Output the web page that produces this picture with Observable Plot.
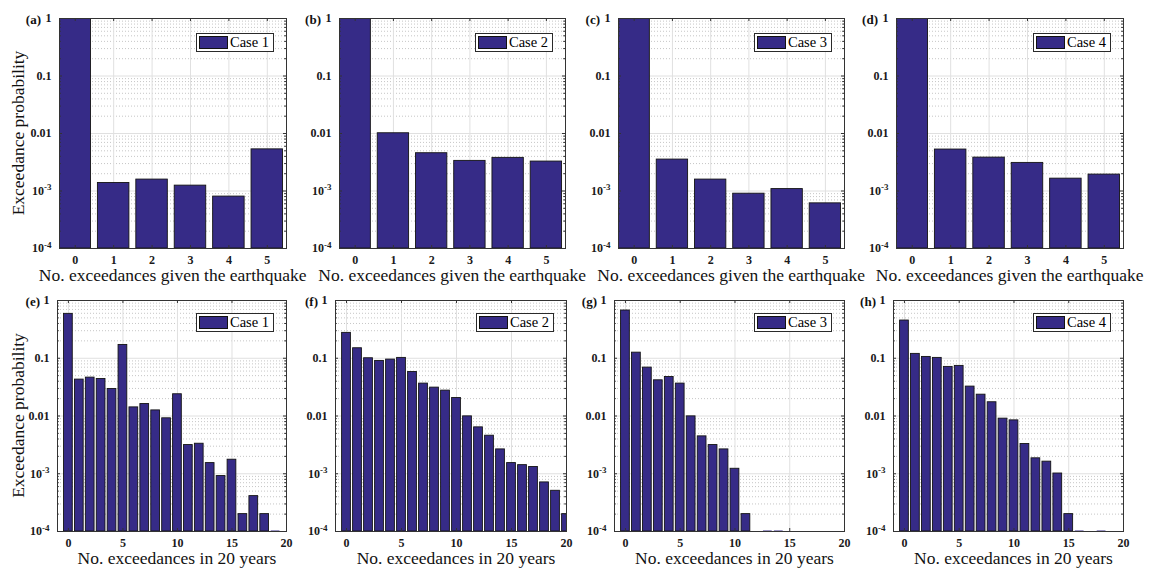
<!DOCTYPE html>
<html>
<head>
<meta charset="utf-8">
<script src="https://cdn.jsdelivr.net/npm/d3@7"></script>
<script src="https://cdn.jsdelivr.net/npm/@observablehq/plot@0.6"></script>
<style>
html,body{margin:0;padding:0;background:#fff;}
#root{position:relative;width:1153px;height:569px;overflow:hidden;font-family:"Liberation Serif","Times New Roman",serif;}
.panel{position:absolute;}
.panel svg{overflow:visible;}
.legend{position:absolute;box-sizing:border-box;border:1px solid #2a2a2a;background:#fff;height:19px;width:78px;display:flex;align-items:center;padding-left:2px;font-size:14.5px;color:#000;line-height:1;}
.swatch{width:29px;height:13px;box-sizing:border-box;border:1px solid #111;margin-right:2px;}
#overlay{position:absolute;left:0;top:0;pointer-events:none;}
</style>
</head>
<body>
<div id="root"></div>
<script>
// ---------------- data ----------------
const eqCounts = [0, 1, 2, 3, 4, 5];
const eqCase1 = [1, 0.00138, 0.00158, 0.00124, 0.00080, 0.0053];
const eqCase2 = [1, 0.0101, 0.00454, 0.00334, 0.00377, 0.00325];
const eqCase3 = [1, 0.00352, 0.00158, 0.000898, 0.00108, 0.00061];
const eqCase4 = [1, 0.00526, 0.00381, 0.00308, 0.00164, 0.00193];

const yrCounts = [0, 1, 2, 3, 4, 5, 6, 7, 8, 9, 10, 11, 12, 13, 14, 15, 16, 17, 18, 19, 20];
const yrCase1 = [0.587, 0.0427, 0.0462, 0.0438, 0.0294, 0.170, 0.0141, 0.0161, 0.0125, 0.00912, 0.0238, 0.00314, 0.00331, 0.00153, 0.000912, 0.00175, 0.0002, 0.00041, 0.0002, 0.0001, null];
const yrCase2 = [0.275, 0.149, 0.100, 0.0899, 0.0948, 0.1014, 0.0579, 0.0364, 0.0310, 0.0275, 0.0205, 0.00986, 0.00636, 0.00456, 0.00264, 0.00153, 0.00141, 0.00131, 0.000708, 0.000507, 0.0002];
const yrCase3 = [0.671, 0.125, 0.0689, 0.0415, 0.0474, 0.0364, 0.00986, 0.00444, 0.00314, 0.00264, 0.00122, 0.0002, null, 0.0001, 0.0001, null, null, null, null, null, null];
const yrCase4 = [0.450, 0.119, 0.1054, 0.1014, 0.0708, 0.0737, 0.0323, 0.0234, 0.0173, 0.0090, 0.0084, 0.00327, 0.00185, 0.00162, 0.00101, 0.0002, 0.0001, null, 0.0001, null, null];

const caseNames = ["Case 1", "Case 2", "Case 3", "Case 4"];
const topTags = ["(a)", "(b)", "(c)", "(d)"];
const bottomTags = ["(e)", "(f)", "(g)", "(h)"];
const yTickValues = [1e-4, 1e-3, 1e-2, 0.1, 1];
const yTickLabels = ["10^-4", "10^-3", "0.01", "0.1", "1"];
const eqTickValues = [0, 1, 2, 3, 4, 5];
const yrTickValues = [0, 5, 10, 15, 20];
const yLabelText = "Exceedance probability";
const eqXLabel = "No. exceedances given the earthquake";
const yrXLabel = "No. exceedances in 20 years";

// ---------------- style / layout ----------------
const BAR = "#362b87";
const FRAME = "#333333";
const topAxes = [
  {left: 59, right: 286, top: 18, bottom: 248},
  {left: 339, right: 565, top: 18, bottom: 248},
  {left: 618, right: 844, top: 18, bottom: 248},
  {left: 896, right: 1123, top: 18, bottom: 248}
];
const bottomAxes = [
  {left: 57, right: 286, top: 300, bottom: 531},
  {left: 335, right: 566, top: 300, bottom: 531},
  {left: 614, right: 844, top: 300, bottom: 531},
  {left: 893, right: 1123, top: 300, bottom: 531}
];

const yMinor = [];
for (let e = -4; e < 0; e++) for (let k = 2; k <= 9; k++) yMinor.push(k * Math.pow(10, e));

const root = document.getElementById("root");
const NS = "http://www.w3.org/2000/svg";

function fmtY(v) {
  const i = yTickValues.indexOf(v);
  return i >= 0 ? yTickLabels[i] : "";
}

function makePanel(o) {
  const mL = 46, mR = 10, mT = 8, mB = 26;
  const ax = o.ax;
  const w = ax.right - ax.left, h = ax.bottom - ax.top;
  const rows = o.counts.map((c, i) => ({c, v: o.values[i]})).filter(d => d.v != null);
  const bars = rows.filter(d => d.v > 1e-4);
  const flat = rows.filter(d => d.v <= 1e-4);
  const half = o.half;
  const tl = 3, tm = 1.8;
  const svg = Plot.plot({
    width: w + mL + mR,
    height: h + mT + mB,
    marginLeft: mL, marginRight: mR, marginTop: mT, marginBottom: mB,
    x: {type: "linear", domain: o.xDomain, ticks: o.xTicks, tickFormat: d => String(d), tickSize: 0, tickPadding: 7, label: null},
    y: {type: "log", domain: [1e-4, 1], ticks: yTickValues, tickFormat: fmtY, tickSize: 0, tickPadding: 8, label: null},
    style: {fontFamily: '"Liberation Serif","Times New Roman",serif', fontSize: "12px", fontWeight: "bold", color: "#1a1a1a", background: "transparent", overflow: "visible"},
    marks: [
      Plot.ruleY(yMinor, {stroke: "#b8b8b8", strokeDasharray: "1,2", strokeWidth: 0.8}),
      Plot.ruleY(yTickValues, {stroke: "#e0e0e0", strokeWidth: 1}),
      Plot.ruleX(o.xTicks, {stroke: "#e0e0e0", strokeWidth: 1}),
      Plot.rect(bars, {x1: d => d.c - half, x2: d => d.c + half, y1: 1e-4, y2: "v", fill: BAR, stroke: "#141414", strokeWidth: 0.9, clip: true}),
      Plot.ruleY(flat, {y: "v", x1: d => d.c - half, x2: d => d.c + half, stroke: BAR, strokeWidth: 2, clip: true}),
      // inward ticks
      Plot.ruleY(yTickValues, {stroke: FRAME, insetRight: w - tl}),
      Plot.ruleY(yTickValues, {stroke: FRAME, insetLeft: w - tl}),
      Plot.ruleY(yMinor, {stroke: FRAME, insetRight: w - tm}),
      Plot.ruleY(yMinor, {stroke: FRAME, insetLeft: w - tm}),
      Plot.ruleX(o.xTicks, {stroke: FRAME, insetTop: h - tl}),
      Plot.ruleX(o.xTicks, {stroke: FRAME, insetBottom: h - tl}),
      Plot.frame({stroke: FRAME, strokeWidth: 1})
    ]
  });
  // superscript exponents on the log axis labels
  d3.select(svg).selectAll('g[aria-label="y-axis tick label"] text').each(function () {
    const m = /^10\^(-?\d+)$/.exec(this.textContent);
    if (m) {
      this.textContent = "10";
      const ts = document.createElementNS(NS, "tspan");
      ts.setAttribute("dy", "-0.5em");
      ts.setAttribute("font-size", "9");
      ts.textContent = m[1];
      this.appendChild(ts);
    }
  });
  const div = document.createElement("div");
  div.className = "panel";
  div.style.left = (ax.left - mL) + "px";
  div.style.top = (ax.top - mT) + "px";
  div.appendChild(svg);
  root.appendChild(div);

  // legend
  const lg = document.createElement("div");
  lg.className = "legend";
  lg.style.left = (ax.right - 12 - 78) + "px";
  lg.style.top = (ax.top + o.legendDy) + "px";
  const sw = document.createElement("div");
  sw.className = "swatch";
  sw.style.background = BAR;
  const tx = document.createElement("span");
  tx.textContent = o.caseName;
  lg.appendChild(sw);
  lg.appendChild(tx);
  root.appendChild(lg);

  const xs = svg.scale("x");
  return {labelX: ax.left - mL + xs.apply(o.labelAt)};
}

const overlay = d3.select(root).append("svg").attr("id", "overlay").attr("width", 1153).attr("height", 569)
  .style("font-family", '"Liberation Serif","Times New Roman",serif');

const eqValues = [eqCase1, eqCase2, eqCase3, eqCase4];
const yrValues = [yrCase1, yrCase2, yrCase3, yrCase4];

eqValues.forEach((vals, i) => {
  const ax = topAxes[i];
  const r = makePanel({ax, counts: eqCounts, values: vals, xDomain: [-0.41, 5.5], xTicks: eqTickValues, half: 0.41, caseName: caseNames[i], legendDy: 15, labelAt: 2.55});
  overlay.append("text").attr("x", r.labelX).attr("y", 281).attr("text-anchor", "middle").attr("font-size", 17.5).attr("fill", "#111").text(eqXLabel);
  overlay.append("text").attr("x", ax.left - 18).attr("y", ax.top + 5.5).attr("text-anchor", "end").attr("font-size", 13).attr("font-weight", "bold").attr("fill", "#111").text(topTags[i]);
});
yrValues.forEach((vals, i) => {
  const ax = bottomAxes[i];
  const r = makePanel({ax, counts: yrCounts, values: vals, xDomain: [-1, 20], xTicks: yrTickValues, half: 0.4, caseName: caseNames[i], legendDy: 13, labelAt: 10});
  overlay.append("text").attr("x", r.labelX).attr("y", 564).attr("text-anchor", "middle").attr("font-size", 17.5).attr("fill", "#111").text(yrXLabel);
  overlay.append("text").attr("x", ax.left - 17).attr("y", ax.top + 5.5).attr("text-anchor", "end").attr("font-size", 13).attr("font-weight", "bold").attr("fill", "#111").text(bottomTags[i]);
});
[topAxes[0], bottomAxes[0]].forEach(ax => {
  overlay.append("text").attr("transform", `translate(24,${(ax.top + ax.bottom) / 2}) rotate(-90)`)
    .attr("text-anchor", "middle").attr("font-size", 17.5).attr("fill", "#111").text(yLabelText);
});
</script>
</body>
</html>
